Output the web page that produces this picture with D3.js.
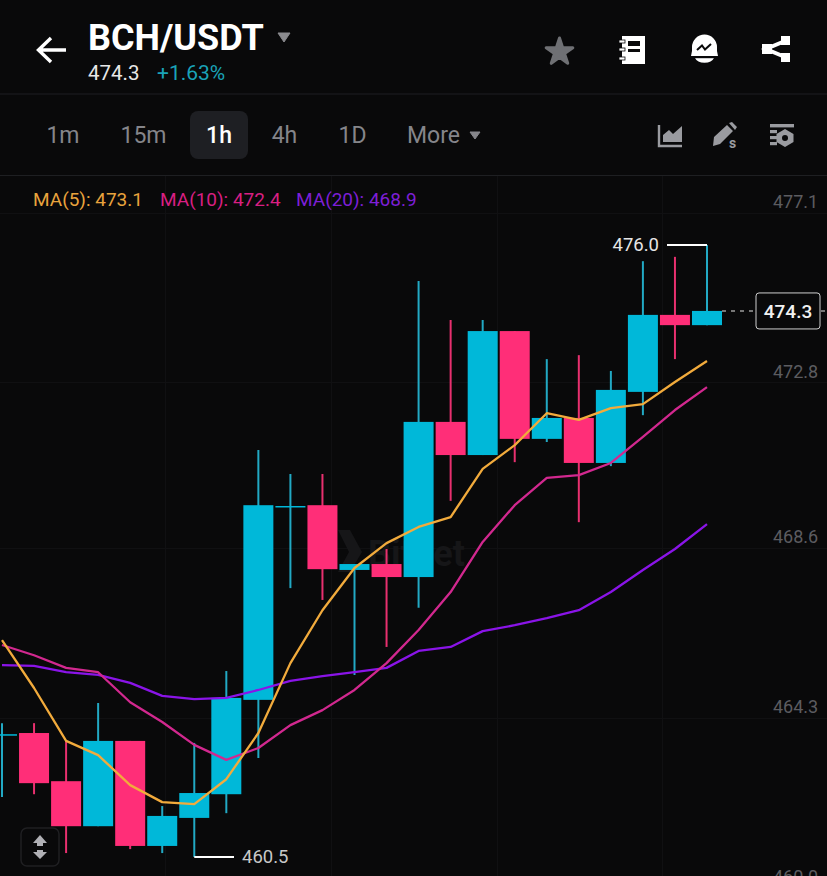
<!DOCTYPE html>
<html><head><meta charset="utf-8">
<style>html,body{margin:0;padding:0;background:#09090a;overflow:hidden}svg{display:block}text{font-family:Roboto,sans-serif}</style>
<script src="https://cdn.jsdelivr.net/npm/d3@7"></script>
</head><body><svg id="c" width="827" height="876"></svg>
<script>
const opens  = [463.61,463.64,462.42,461.28,463.44,460.78,461.49,462.09,464.48,469.39,469.41,467.77,467.92,467.59,471.52,470.68,473.82,471.09,471.62,470.48,472.28,474.23,473.97];
const highs  = [463.89,463.89,463.44,464.40,463.44,461.79,463.39,465.21,470.81,470.20,470.20,467.92,468.30,475.09,474.10,474.10,473.82,473.11,473.21,472.81,475.59,475.70,476.00];
const lows   = [462.02,462.09,460.60,461.28,460.70,460.60,460.50,461.61,463.01,467.31,467.01,465.11,465.82,466.81,469.52,470.68,470.50,471.01,468.98,470.40,471.69,473.11,473.97];
const closes = [463.61,462.37,461.28,463.44,460.78,461.54,462.12,464.53,469.41,469.39,467.79,467.92,467.59,471.52,470.68,473.82,471.09,471.62,470.48,472.33,474.23,473.97,474.33];
const ma5  = [465.99,464.78,463.44,463.08,462.32,461.89,461.84,462.47,463.64,465.41,466.75,467.82,468.45,468.86,469.11,470.33,470.93,471.74,471.57,471.87,471.97,472.53,473.06];
const ma10 = [465.87,465.61,465.29,465.18,464.42,463.92,463.34,462.96,463.26,463.84,464.22,464.73,465.41,466.25,467.21,468.48,469.41,470.10,470.17,470.48,471.14,471.82,472.40];
const ma20 = [465.36,465.34,465.18,465.11,464.91,464.58,464.50,464.53,464.73,464.96,465.08,465.18,465.29,465.72,465.82,466.22,466.37,466.55,466.75,467.21,467.77,468.30,468.93];
const priceTicks = [477.1,472.8,468.6,464.3,460.0];
const tabs = ["1m","15m","1h","4h","1D"];
const tabX = [63,143.5,219,284.5,352.5];
const legend = [["MA(5): 473.1","#e8a33d",33],["MA(10): 472.4","#d81f82",160],["MA(20): 468.9","#7d1fd6",296]];
const lastPrice = 474.3, highPrice = 476.0, lowPrice = 460.5;

const UP="#00b8d9", DOWN="#ff2e78", BG="#09090a";
const svg=d3.select("#c");
svg.append("rect").attr("width",827).attr("height",876).attr("fill",BG);
const x=d3.scaleLinear().domain([0,22]).range([2,707]);
const y=d3.scaleLinear().domain([476,460.5]).range([245,857]);

// dividers
[94,175.5].forEach(v=>svg.append("line").attr("x1",0).attr("x2",827).attr("y1",v).attr("y2",v).attr("stroke","#1e1f22").attr("stroke-width",1));

// chart clip
svg.append("clipPath").attr("id","pl").append("rect").attr("x",0).attr("y",176).attr("width",827).attr("height",700);
const plot=svg.append("g").attr("clip-path","url(#pl)");

// grid
const grid=plot.append("g").attr("stroke","#101012").attr("stroke-width",1);
priceTicks.forEach(t=>grid.append("line").attr("x1",0).attr("x2",827).attr("y1",Math.round(y(t))+11.5).attr("y2",Math.round(y(t))+11.5));
[165.5,331.5,497.5,662.5].forEach(v=>grid.append("line").attr("x1",v).attr("x2",v).attr("y1",176).attr("y2",876));

// watermark
const wm=plot.append("g").attr("fill","#161618");
wm.append("path").attr("d","M338 530 L350 530 L362 552 L350 572 L338 572 L349 552 Z");
wm.append("text").attr("x",368).attr("y",566).attr("font-size",36).attr("font-weight",700).text("Bitget");

// candles
const idx=d3.range(opens.length);
plot.append("g").selectAll("line").data(idx).join("line")
 .attr("x1",i=>x(i)).attr("x2",i=>x(i)).attr("y1",i=>y(highs[i])).attr("y2",i=>y(lows[i]))
 .attr("stroke",i=>closes[i]>=opens[i]?"#22a9c4":"#e8306f").attr("stroke-width",2);
plot.append("g").selectAll("rect").data(idx).join("rect")
 .attr("x",i=>x(i)-15).attr("width",30)
 .attr("y",i=>y(Math.max(opens[i],closes[i])))
 .attr("height",i=>Math.max(1.5,Math.abs(y(opens[i])-y(closes[i]))))
 .attr("fill",i=>closes[i]>=opens[i]?UP:DOWN);

// MA lines
const ln=d3.line().x((d,i)=>x(i)).y(d=>y(d));
[[ma20,"#8a14e8"],[ma10,"#d2288f"],[ma5,"#f2ab3c"]].forEach(([d,c])=>plot.append("path").attr("d",ln(d)).attr("fill","none").attr("stroke",c).attr("stroke-width",2.3).attr("stroke-linejoin","round"));

// price axis
const ax=d3.axisRight(y).tickValues(priceTicks).tickFormat(d3.format(".1f")).tickSize(0).tickPadding(0);
const axg=plot.append("g").attr("transform","translate(773,0)").call(ax);
axg.select(".domain").remove();
axg.selectAll("text").attr("fill","#5c5c60").attr("font-size",18).attr("font-family","Roboto,sans-serif");

// hi / lo labels
plot.append("line").attr("x1",667).attr("x2",x(22)).attr("y1",y(highPrice)).attr("y2",y(highPrice)).attr("stroke","#fff").attr("stroke-width",2);
plot.append("text").attr("x",659).attr("y",y(highPrice)).attr("dy","0.35em").attr("text-anchor","end").attr("fill","#e6e6e6").attr("font-size",18.5).text(d3.format(".1f")(highPrice));
plot.append("line").attr("x1",x(6)).attr("x2",234).attr("y1",y(lowPrice)).attr("y2",y(lowPrice)).attr("stroke","#fff").attr("stroke-width",2);
plot.append("text").attr("x",242).attr("y",y(lowPrice)).attr("dy","0.35em").attr("fill","#c8c8c8").attr("font-size",18.5).text(d3.format(".1f")(lowPrice));

// last price
const ly=y(closes[22]);
plot.append("line").attr("x1",722).attr("x2",827).attr("y1",ly).attr("y2",ly).attr("stroke","#9a9a9a").attr("stroke-width",1.5).attr("stroke-dasharray","4 5");
plot.append("rect").attr("x",756).attr("y",ly-18).attr("width",64).attr("height",36).attr("rx",3).attr("fill",BG).attr("stroke","#cfcfcf").attr("stroke-width",1);
plot.append("text").attr("x",788).attr("y",ly).attr("dy","0.35em").attr("text-anchor","middle").attr("fill","#f2f2f2").attr("font-size",19).attr("font-weight",500).text(d3.format(".1f")(lastPrice));

// legend
legend.forEach(([t,c,px])=>svg.append("text").attr("x",px).attr("y",206).attr("fill",c).attr("font-size",19).text(t));

// header
svg.append("path").attr("d","M66 50 H39 M51 38 L38.5 50 L51 62").attr("fill","none").attr("stroke","#fff").attr("stroke-width",3.4);
svg.append("text").attr("x",88).attr("y",50).attr("fill","#fff").attr("font-size",36).attr("font-weight",700).text("BCH/USDT");
svg.append("path").attr("d","M278 33 H290 L284 42 Z").attr("fill","#8a8a8e").attr("stroke","#8a8a8e").attr("stroke-width",1).attr("stroke-linejoin","round");
svg.append("text").attr("x",88).attr("y",80).attr("fill","#e8e8e8").attr("font-size",20.5).text(d3.format(".1f")(lastPrice));
svg.append("text").attr("x",157).attr("y",80).attr("fill","#1aa3b8").attr("font-size",21).text("+1.63%");

// tabs
svg.append("rect").attr("x",190).attr("y",111).attr("width",58).attr("height",48).attr("rx",8).attr("fill","#1e1f23");
tabs.forEach((t,i)=>svg.append("text").attr("x",tabX[i]).attr("y",143).attr("text-anchor","middle").attr("font-size",23).attr("fill",t==="1h"?"#fff":"#85858a").attr("font-weight",t==="1h"?500:400).text(t));
svg.append("text").attr("x",407).attr("y",143).attr("font-size",23).attr("fill","#85858a").text("More");
svg.append("path").attr("d","M470 132 H480 L475 139 Z").attr("fill","#85858a").attr("stroke","#85858a").attr("stroke-linejoin","round");

// header icons
svg.append("path").attr("transform","translate(559.5,52)").attr("d",d3.symbol(d3.symbolStar,220)()).attr("fill","#6f7074").attr("stroke","#6f7074").attr("stroke-width",3).attr("stroke-linejoin","round");
// notebook
svg.append("path").attr("fill-rule","evenodd").attr("fill","#fff").attr("d","M622 36 H645 V64 H622 Z M628 41 V46 H640 V41 Z M628 49 V52 H640 V49 Z");
[41,49,58].forEach(v=>svg.append("rect").attr("x",619).attr("y",v-1).attr("width",6).attr("height",3).attr("fill","#fff").attr("stroke",BG).attr("stroke-width",.8));
// bell
svg.append("path").attr("fill","#fff").attr("d","M692 51 V47 A12.5 12.5 0 0 1 717 47 V51 L718 56 H691 Z M695 58 H714 A10 7 0 0 1 695 58 Z");
svg.append("path").attr("fill","none").attr("stroke",BG).attr("stroke-width",2).attr("d","M697 50 L702 45.5 L705 49.5 L711 44");
svg.append("rect").attr("x",690).attr("y",56).attr("width",28).attr("height",2.2).attr("fill",BG);
// share
svg.append("path").attr("fill","none").attr("stroke","#fff").attr("stroke-width",4).attr("d","M785 41 L766 49 L785 57");
svg.append("rect").attr("x",781).attr("y",36).attr("width",9).attr("height",9).attr("fill","#fff");
svg.append("rect").attr("x",781).attr("y",53).attr("width",9).attr("height",9).attr("fill","#fff");
svg.append("rect").attr("x",762).attr("y",44).attr("width",10).attr("height",10).attr("fill","#fff");

// toolbar icons
const ic="#9a9ba0";
svg.append("path").attr("fill","none").attr("stroke",ic).attr("stroke-width",2.4).attr("d","M659 125 V146 H682");
svg.append("path").attr("fill",ic).attr("d","M663 142 V135 L669 130 L673 134 L682 126 V142 Z");
svg.append("path").attr("fill",ic).attr("d","M713 146 L714 137 L727 125 L733 131 L720 144 Z M729 123 L732 122 L737 127 L735 130 Z");
svg.append("text").attr("x",729).attr("y",148).attr("fill",ic).attr("font-size",14).attr("font-weight",700).text("s");
svg.append("rect").attr("x",770).attr("y",124).attr("width",24).attr("height",3.4).attr("fill",ic);
[131,137,143].forEach(v=>svg.append("rect").attr("x",770).attr("y",v-1).attr("width",7).attr("height",3.2).attr("fill",ic));
svg.append("path").attr("fill-rule","evenodd").attr("fill",ic).attr("d","M785 129 L793.5 134 V142 L785 147 L776.5 142 V134 Z M785 135 A3 3 0 1 0 785.01 141 A3 3 0 1 0 785 135 Z");

// scale button
svg.append("rect").attr("x",21).attr("y",828).attr("width",38).attr("height",38).attr("rx",6).attr("fill",BG).attr("stroke","#1f1f22").attr("stroke-width",1.5);
svg.append("path").attr("fill","#b0b0b5").attr("d","M40 835 L47 843 H43 V846 H37 V843 H33 Z M37 850 H43 V852 H47 L40 859 L33 852 H37 Z");
</script></body></html>
